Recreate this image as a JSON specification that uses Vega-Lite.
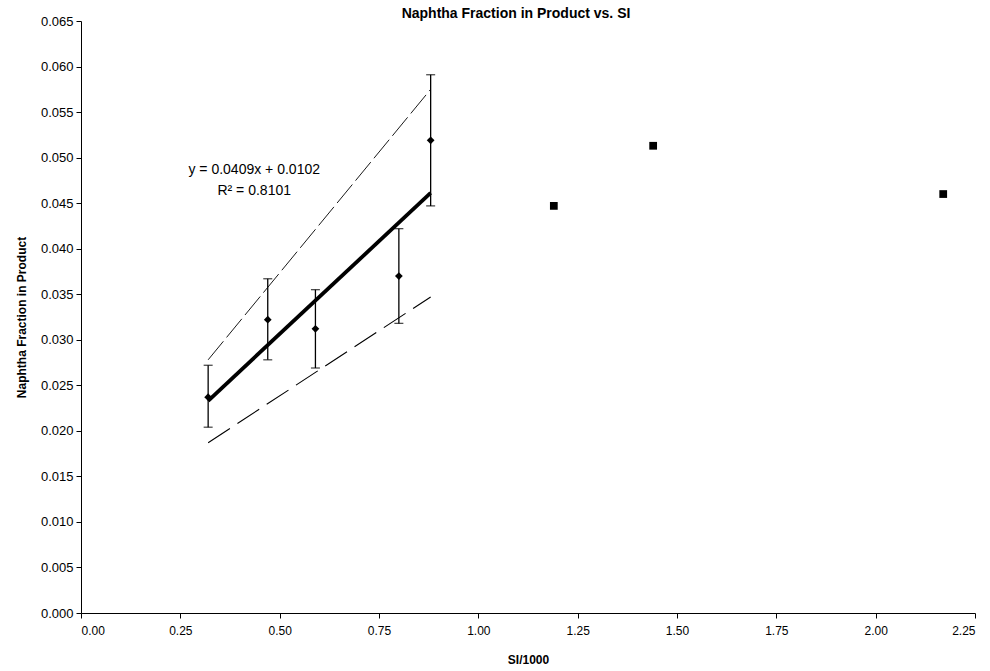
{
  "$schema": "https://vega.github.io/schema/vega-lite/v6.json",
  "width": 894,
  "height": 592,
  "autosize": {"type": "none"},
  "padding": {"left": 81, "top": 21, "right": 15, "bottom": 58},
  "background": "white",
  "config": {
    "view": {"stroke": null},
    "font": "Liberation Sans",
    "axis": {
      "grid": false,
      "domainColor": "black",
      "tickColor": "black",
      "labelColor": "black",
      "titleColor": "black",
      "labelFont": "Liberation Sans",
      "titleFont": "Liberation Sans",
      "labelFontSize": 12.5,
      "titleFontSize": 12,
      "titleFontWeight": "bold",
      "tickSize": 5
    }
  },
  "title": {
    "text": "Naphtha Fraction in Product vs. SI",
    "font": "Liberation Sans",
    "fontSize": 14,
    "fontWeight": "bold",
    "color": "black",
    "offset": -6,
    "dx": -12
  },
  "datasets": {
    "measured": [
      {"si": 0.32, "frac": 0.0237, "lo": 0.0204, "hi": 0.0272},
      {"si": 0.47, "frac": 0.0322, "lo": 0.0278, "hi": 0.0367},
      {"si": 0.59, "frac": 0.0312, "lo": 0.0269, "hi": 0.0355},
      {"si": 0.80, "frac": 0.0370, "lo": 0.0318, "hi": 0.0422},
      {"si": 0.88, "frac": 0.0519, "lo": 0.0447, "hi": 0.0591}
    ],
    "extra": [
      {"si": 1.19, "frac": 0.0447},
      {"si": 1.44, "frac": 0.0513},
      {"si": 2.17, "frac": 0.0460}
    ],
    "bands": [
      {"si": 0.32, "frac": 0.0278, "band": "upper"},
      {"si": 0.88, "frac": 0.0575, "band": "upper"},
      {"si": 0.32, "frac": 0.0187, "band": "lower"},
      {"si": 0.88, "frac": 0.0347, "band": "lower"}
    ],
    "labels": [
      {"si": 0.436, "frac": 0.0486, "text": "y = 0.0409x + 0.0102"},
      {"si": 0.436, "frac": 0.0463, "text": "R² = 0.8101"}
    ]
  },
  "encoding": {
    "x": {
      "field": "si",
      "type": "quantitative",
      "title": "SI/1000",
      "scale": {"domain": [0, 2.25], "nice": false, "zero": false},
      "axis": {
        "values": [0, 0.25, 0.5, 0.75, 1, 1.25, 1.5, 1.75, 2, 2.25],
        "format": ".2f",
        "labelFontSize": 12,
        "labelPadding": 7,
        "titlePadding": 18
      }
    },
    "y": {
      "field": "frac",
      "type": "quantitative",
      "title": "Naphtha Fraction in Product",
      "scale": {"domain": [0, 0.065], "nice": false, "zero": false},
      "axis": {
        "values": [0, 0.005, 0.01, 0.015, 0.02, 0.025, 0.03, 0.035, 0.04, 0.045, 0.05, 0.055, 0.06, 0.065],
        "format": ".3f",
        "labelFontSize": 13,
        "labelPadding": 3,
        "titlePadding": 12
      }
    }
  },
  "layer": [
    {
      "data": {"name": "bands"},
      "transform": [{"filter": "datum.band === 'upper'"}],
      "mark": {"type": "line", "color": "black", "strokeWidth": 0.9, "strokeDash": [24, 5]}
    },
    {
      "data": {"name": "bands"},
      "transform": [{"filter": "datum.band === 'lower'"}],
      "mark": {"type": "line", "color": "black", "strokeWidth": 1.1, "strokeDash": [26, 9]}
    },
    {
      "data": {"name": "measured"},
      "transform": [{"regression": "frac", "on": "si"}],
      "mark": {"type": "line", "color": "black", "strokeWidth": 3.8}
    },
    {
      "data": {"name": "measured"},
      "mark": {"type": "rule", "color": "black", "strokeWidth": 1.3},
      "encoding": {
        "y": {"field": "lo", "type": "quantitative", "title": "Naphtha Fraction in Product"},
        "y2": {"field": "hi"}
      }
    },
    {
      "data": {"name": "measured"},
      "mark": {"type": "tick", "orient": "horizontal", "color": "black", "size": 9, "thickness": 1.3},
      "encoding": {
        "y": {"field": "lo", "type": "quantitative", "title": "Naphtha Fraction in Product"}
      }
    },
    {
      "data": {"name": "measured"},
      "mark": {"type": "tick", "orient": "horizontal", "color": "black", "size": 9, "thickness": 1.3},
      "encoding": {
        "y": {"field": "hi", "type": "quantitative", "title": "Naphtha Fraction in Product"}
      }
    },
    {
      "data": {"name": "measured"},
      "mark": {"type": "point", "shape": "diamond", "filled": true, "color": "black", "size": 60, "opacity": 1}
    },
    {
      "data": {"name": "extra"},
      "mark": {"type": "point", "shape": "square", "filled": true, "color": "black", "size": 60, "opacity": 1}
    },
    {
      "data": {"name": "labels"},
      "mark": {"type": "text", "font": "Liberation Sans", "fontSize": 14, "color": "black", "align": "center", "baseline": "middle"},
      "encoding": {"text": {"field": "text"}}
    }
  ]
}
